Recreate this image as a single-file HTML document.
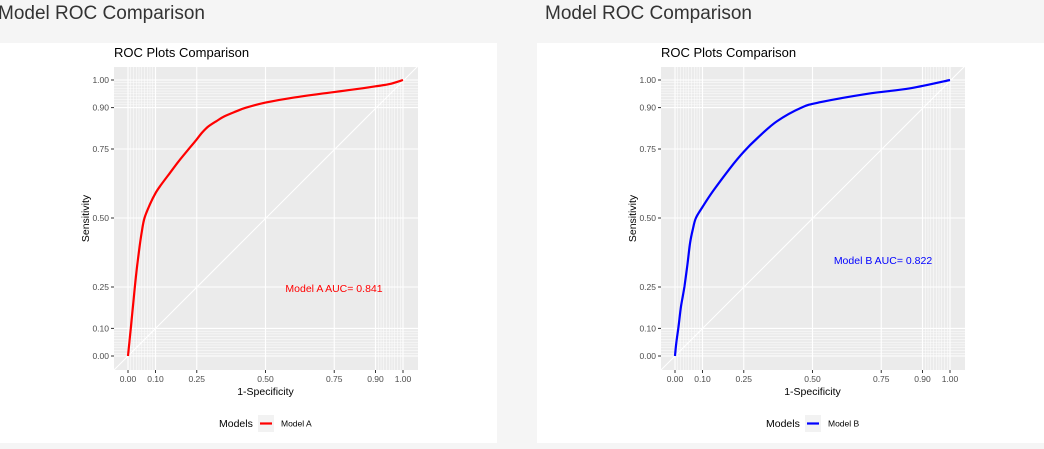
<!DOCTYPE html>
<html><head><meta charset="utf-8">
<style>
html,body{margin:0;padding:0;background:#f5f5f5;width:1044px;height:449px;overflow:hidden;font-family:"Liberation Sans",sans-serif;}
</style></head>
<body>
<svg id="root" width="1044" height="449" xmlns="http://www.w3.org/2000/svg" font-family="Liberation Sans, sans-serif"></svg>
<script>
const fprA=[0,0.005,0.01,0.02,0.03,0.04,0.05,0.06,0.08,0.1,0.12,0.15,0.18,0.2,0.225,0.25,0.27,0.29,0.32,0.35,0.39,0.43,0.5,0.6,0.7,0.8,0.9,0.95,1];
const tprA=[0,0.05,0.1,0.2,0.3,0.38,0.45,0.5,0.55,0.59,0.62,0.66,0.7,0.725,0.755,0.785,0.81,0.83,0.85,0.868,0.885,0.9,0.918,0.936,0.95,0.963,0.977,0.985,1];
const fprB=[0,0.005,0.012,0.022,0.034,0.045,0.055,0.065,0.076,0.1,0.14,0.2,0.25,0.3,0.37,0.46,0.53,0.7,0.855,1];
const tprB=[0,0.05,0.1,0.18,0.25,0.33,0.41,0.46,0.5,0.54,0.6,0.68,0.74,0.79,0.85,0.9,0.92,0.95,0.97,1];
const ticks=[0,0.1,0.25,0.5,0.75,0.9,1];
const tickLabels=["0.00","0.10","0.25","0.50","0.75","0.90","1.00"];
const minor=[0.01,0.02,0.03,0.04,0.05,0.06,0.07,0.08,0.09,0.91,0.92,0.93,0.94,0.95,0.96,0.97,0.98,0.99];
const NS="http://www.w3.org/2000/svg";
const root=document.getElementById('root');
function mk(tag,attrs,parent,text){const e=document.createElementNS(NS,tag);for(const k in attrs)e.setAttribute(k,attrs[k]);if(text!==undefined)e.textContent=text;parent.appendChild(e);return e;}
function smooth(pts){
  let d='M'+pts[0][0].toFixed(1)+','+pts[0][1].toFixed(1);
  for(let i=0;i<pts.length-1;i++){
    const p0=pts[Math.max(0,i-1)],p1=pts[i],p2=pts[i+1],p3=pts[Math.min(pts.length-1,i+2)];
    const c1=[p1[0]+(p2[0]-p0[0])/6,p1[1]+(p2[1]-p0[1])/6];
    const c2=[p2[0]-(p3[0]-p1[0])/6,p2[1]-(p3[1]-p1[1])/6];
    d+='C'+c1[0].toFixed(1)+','+c1[1].toFixed(1)+' '+c2[0].toFixed(1)+','+c2[1].toFixed(1)+' '+p2[0].toFixed(1)+','+p2[1].toFixed(1);
  }
  return d;
}
function panel(off,cardX,cardW,name,color,fpr,tpr,auc,ax,ay){
  const g=mk('g',{},root);
  
  
  const card=mk('rect',{x:cardX,y:43,width:cardW,height:400,fill:'#fff'},g);
  
  const t=mk('text',{x:off-2,y:19,'font-size':19,fill:'#333'},g,'Model ROC Comparison');
  
  const x0=128+off,x1=403+off,y0=356,y1=80;
  const sx=v=>x0+v*(x1-x0), sy=v=>y0-v*(y0-y1);
  const L=114+off,R=418+off,T=67,B=370;
  const st=mk('text',{x:L,y:57,'font-size':13,fill:'#000'},g,'ROC Plots Comparison');
  
  const bg=mk('rect',{x:L,y:T,width:R-L,height:B-T,fill:'#ebebeb'},g);
  
  minor.forEach(v=>{
    mk('line',{x1:sx(v),x2:sx(v),y1:T,y2:B,stroke:'#fff','stroke-width':0.5},g);
    mk('line',{x1:L,x2:R,y1:sy(v),y2:sy(v),stroke:'#fff','stroke-width':0.5},g);
  });
  ticks.forEach((v,i)=>{
    mk('line',{x1:sx(v),x2:sx(v),y1:T,y2:B,stroke:'#fff','stroke-width':1.1},g);
    mk('line',{x1:L,x2:R,y1:sy(v),y2:sy(v),stroke:'#fff','stroke-width':1.1},g);
    mk('line',{x1:sx(v),x2:sx(v),y1:B,y2:B+3,stroke:'#333','stroke-width':1},g);
    mk('line',{x1:L-3,x2:L,y1:sy(v),y2:sy(v),stroke:'#333','stroke-width':1},g);
    const xl=mk('text',{x:sx(v),y:B+12,'font-size':8.5,fill:'#4d4d4d','text-anchor':'middle'},g,tickLabels[i]);
    
    const yl=mk('text',{x:L-5,y:sy(v)+3,'font-size':8.5,fill:'#4d4d4d','text-anchor':'end'},g,tickLabels[i]);
    
  });
  const d=mk('line',{x1:L,y1:B,x2:R,y2:B-(R-L),stroke:'#fff','stroke-width':1.1},g);
  
  const pts=fpr.map((v,i)=>[sx(v),sy(tpr[i])]);
  const c=mk('path',{d:smooth(pts),fill:'none',stroke:color,'stroke-width':2.2,'stroke-linejoin':'round'},g);
  
  const a=mk('text',{x:ax+off,y:ay,'font-size':10.5,fill:color,'text-anchor':'middle'},g,name+' AUC= '+auc);
  
  const xt=mk('text',{x:(x0+x1)/2,y:395,'font-size':10.5,fill:'#000','text-anchor':'middle'},g,'1-Specificity');
  
  const yt=mk('text',{x:0,y:0,'font-size':10.5,fill:'#000','text-anchor':'middle',transform:`translate(${L-25},${(T+B)/2}) rotate(-90)`},g,'Sensitivity');
  
  const lg=mk('g',{},g);
  
  mk('text',{x:219+off,y:427,'font-size':10.5,fill:'#000'},lg,'Models');
  mk('rect',{x:258+off,y:415,width:16,height:17,fill:'#f2f2f2'},lg);
  mk('line',{x1:260+off,x2:272+off,y1:423.5,y2:423.5,stroke:color,'stroke-width':2.2},lg);
  mk('text',{x:281+off,y:426.5,'font-size':8.5,fill:'#000'},lg,name);
}
panel(0,0,497,'Model A','#ff0000',fprA,tprA,'0.841',334,292);
panel(547,537,507,'Model B','#0000ff',fprB,tprB,'0.822',336,264);
</script>
</body></html>
